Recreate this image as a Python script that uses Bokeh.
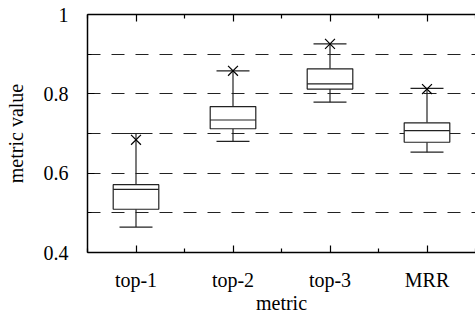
from bokeh.plotting import figure
from bokeh.models import Range1d, FixedTicker, LinearAxis, ColumnDataSource
from bokeh.embed import file_html
from bokeh.resources import INLINE

categories = ["top-1", "top-2", "top-3", "MRR"]
lower_whisker = [0.464, 0.680, 0.779, 0.653]
q1 = [0.509, 0.712, 0.812, 0.678]
median = [0.559, 0.734, 0.825, 0.707]
q3 = [0.571, 0.768, 0.863, 0.727]
upper_whisker = [0.700, 0.858, 0.926, 0.814]
outliers = [0.684, 0.858, 0.926, 0.812]

y_ticks = [0.4, 0.6, 0.8, 1.0]
y_tick_labels = ["0.4", "0.6", "0.8", "1"]
y_minor = [0.5, 0.7, 0.9]
y_grid = [0.5, 0.6, 0.7, 0.8, 0.9]

pos = list(range(1, len(categories) + 1))
box_w = 0.47
cap_w = 0.34

src = ColumnDataSource(dict(
    x=pos, lw=lower_whisker, q1=q1, med=median, q3=q3, uw=upper_whisker,
    out=outliers,
    xl=[v - box_w / 2 for v in pos], xr=[v + box_w / 2 for v in pos],
    cl=[v - cap_w / 2 for v in pos], cr=[v + cap_w / 2 for v in pos],
))

FONT = "Liberation Serif"

p = figure(width=475, height=328, output_backend="svg", toolbar_location=None,
           x_range=Range1d(0.5, 4.5), y_range=Range1d(0.4, 1.0),
           x_axis_location=None, y_axis_location=None,
           min_border_left=87, min_border_right=0, min_border_top=14,
           min_border_bottom=76)
p.outline_line_color = None
p.background_fill_color = "white"
p.border_fill_color = "white"

x_ticker = FixedTicker(ticks=pos, minor_ticks=[0.5, 1.5, 2.5, 3.5, 4.5])
y_ticker = FixedTicker(ticks=y_ticks, minor_ticks=y_minor)


def style(ax):
    ax.axis_line_color = "black"
    ax.axis_line_width = 1.5
    ax.major_tick_in = 7
    ax.major_tick_out = 0
    ax.minor_tick_in = 4
    ax.minor_tick_out = 0
    ax.major_tick_line_color = "black"
    ax.minor_tick_line_color = "black"
    ax.major_tick_line_width = 1.2
    ax.minor_tick_line_width = 1.2
    ax.major_label_text_font = FONT
    ax.major_label_text_font_size = "20px"
    ax.major_label_text_color = "black"
    ax.axis_label_text_font = FONT
    ax.axis_label_text_font_size = "20px"
    ax.axis_label_text_font_style = "normal"
    ax.axis_label_text_color = "black"


xb = LinearAxis(ticker=x_ticker, axis_label="metric",
                major_label_overrides={v: c for v, c in zip(pos, categories)})
style(xb)
xb.major_label_standoff = 16
xb.axis_label_standoff = -2
p.add_layout(xb, "below")

xt = LinearAxis(ticker=x_ticker, major_label_overrides={v: "" for v in pos})
style(xt)
xt.major_label_text_font_size = "0px"
xt.major_label_standoff = 0
p.add_layout(xt, "above")

yl = LinearAxis(ticker=y_ticker, axis_label="metric value",
                major_label_overrides={v: s for v, s in zip(y_ticks, y_tick_labels)})
style(yl)
yl.major_label_standoff = 19
yl.axis_label_standoff = 14
p.add_layout(yl, "left")

p.xgrid.visible = False
p.ygrid.ticker = FixedTicker(ticks=y_grid)
p.ygrid.grid_line_color = "#222222"
p.ygrid.grid_line_width = 1
p.ygrid.grid_line_dash = "13 11"

lc = "#222222"
# whiskers
p.segment("x", "q3", "x", "uw", source=src, line_color=lc, line_width=1.2)
p.segment("x", "q1", "x", "lw", source=src, line_color=lc, line_width=1.2)
# caps
p.segment("cl", "uw", "cr", "uw", source=src, line_color=lc, line_width=1.2)
p.segment("cl", "lw", "cr", "lw", source=src, line_color=lc, line_width=1.2)
# boxes
p.quad(left="xl", right="xr", bottom="q1", top="q3", source=src,
       fill_color="white", line_color=lc, line_width=1.2)
# medians
p.segment("xl", "med", "xr", "med", source=src, line_color=lc, line_width=1.2)
# outliers
p.scatter("x", "out", source=src, marker="x", size=14, line_color="black",
          line_width=1.2)

open("out.html", "w").write(file_html(p, INLINE))
